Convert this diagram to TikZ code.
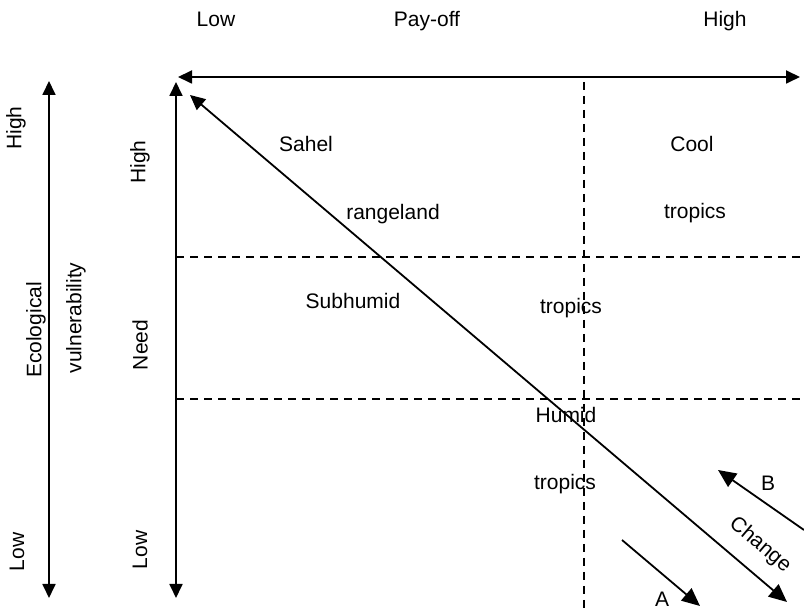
\documentclass[tikz,border=0pt]{standalone}
\usepackage{fontspec}
\setmainfont{Liberation Sans}
\usetikzlibrary{arrows.meta}
\begin{document}
\begin{tikzpicture}[x=0.5pt,y=-0.5pt,>={Triangle[length=7pt,width=6.5pt]},line width=0.9pt,
	lbl/.style={font=\fontsize{10.5}{12}\selectfont,inner sep=0pt},
	txt/.style={lbl,anchor=base},
	vtxt/.style={lbl,rotate=90},
	bigtip/.style={-{Triangle[length=9pt,width=8pt]}},
	twotip/.style={{Triangle[length=7.5pt,width=7pt]}-{Triangle[length=9pt,width=8pt]}},
	gridline/.style={line width=0.6pt,dash pattern=on 4pt off 3pt}]
	\useasboundingbox (0,0) rectangle (804,608);
	\path
	(178,77) coordinate (payL) (800,77) coordinate (payR)
	(176,82) coordinate (needT) (176,598) coordinate (needB)
	(49,81) coordinate (ecoT) (49,598) coordinate (ecoB)
	(190,95) coordinate (chT) (787,602) coordinate (chB)
	(584,82) coordinate (vT) (584,608) coordinate (vB)
	(176,257) coordinate (h1L) (804,257) coordinate (h1R)
	(176,399) coordinate (h2L) (804,399) coordinate (h2R)
	(622,540) coordinate (aS) (700,606) coordinate (aE)
	(804,530) coordinate (bS) (718,470) coordinate (bE)
	;
	% dashed grid
	\draw[gridline] (vT)--(vB) (h1L)--(h1R) (h2L)--(h2R);
	% axes
	\draw[<->] (payL)--(payR);
	\draw[<->] (needT)--(needB);
	\draw[<->] (ecoT)--(ecoB);
	\draw[twotip] (chT)--(chB);
	\draw[bigtip] (aS)--(aE);
	\draw[bigtip] (bS)--(bE);
	% axis labels
	\node[txt] (lowpay) at (216,27) {Low};
	\node[txt] (payoff) at (427,27) {Pay-off};
	\node[txt] (highpay) at (725,27) {High};
	\node[vtxt] (highneed) at (140,162) {High};
	\node[vtxt] (need) at (140,345) {Need};
	\node[vtxt] (lowneed) at (140,550) {Low};
	\node[vtxt] (higheco) at (16,128) {High};
	\node[vtxt] (eco) at (36,330) {Ecological};
	\node[vtxt] (vuln) at (76,318) {vulnerability};
	\node[vtxt] (loweco) at (17,552) {Low};
	% zones
	\node[txt] (sahel) at (306,152) {Sahel};
	\node[txt] (range) at (393,220) {rangeland};
	\node[txt] (cool) at (692,152) {Cool};
	\node[txt] (cooltr) at (695,219) {tropics};
	\node[txt] (subhum) at (353,309) {Subhumid};
	\node[txt] (subtr) at (571,314) {tropics};
	\node[txt] (humid) at (566,423) {Humid};
	\node[txt] (humtr) at (565,490) {tropics};
	% change arrows
	\node[lbl,rotate=-40.4] (change) at (760,545) {Change};
	\node[txt] (alab) at (662,607) {A};
	\node[lbl] (blab) at (768,483) {B};
\end{tikzpicture}
\end{document}
